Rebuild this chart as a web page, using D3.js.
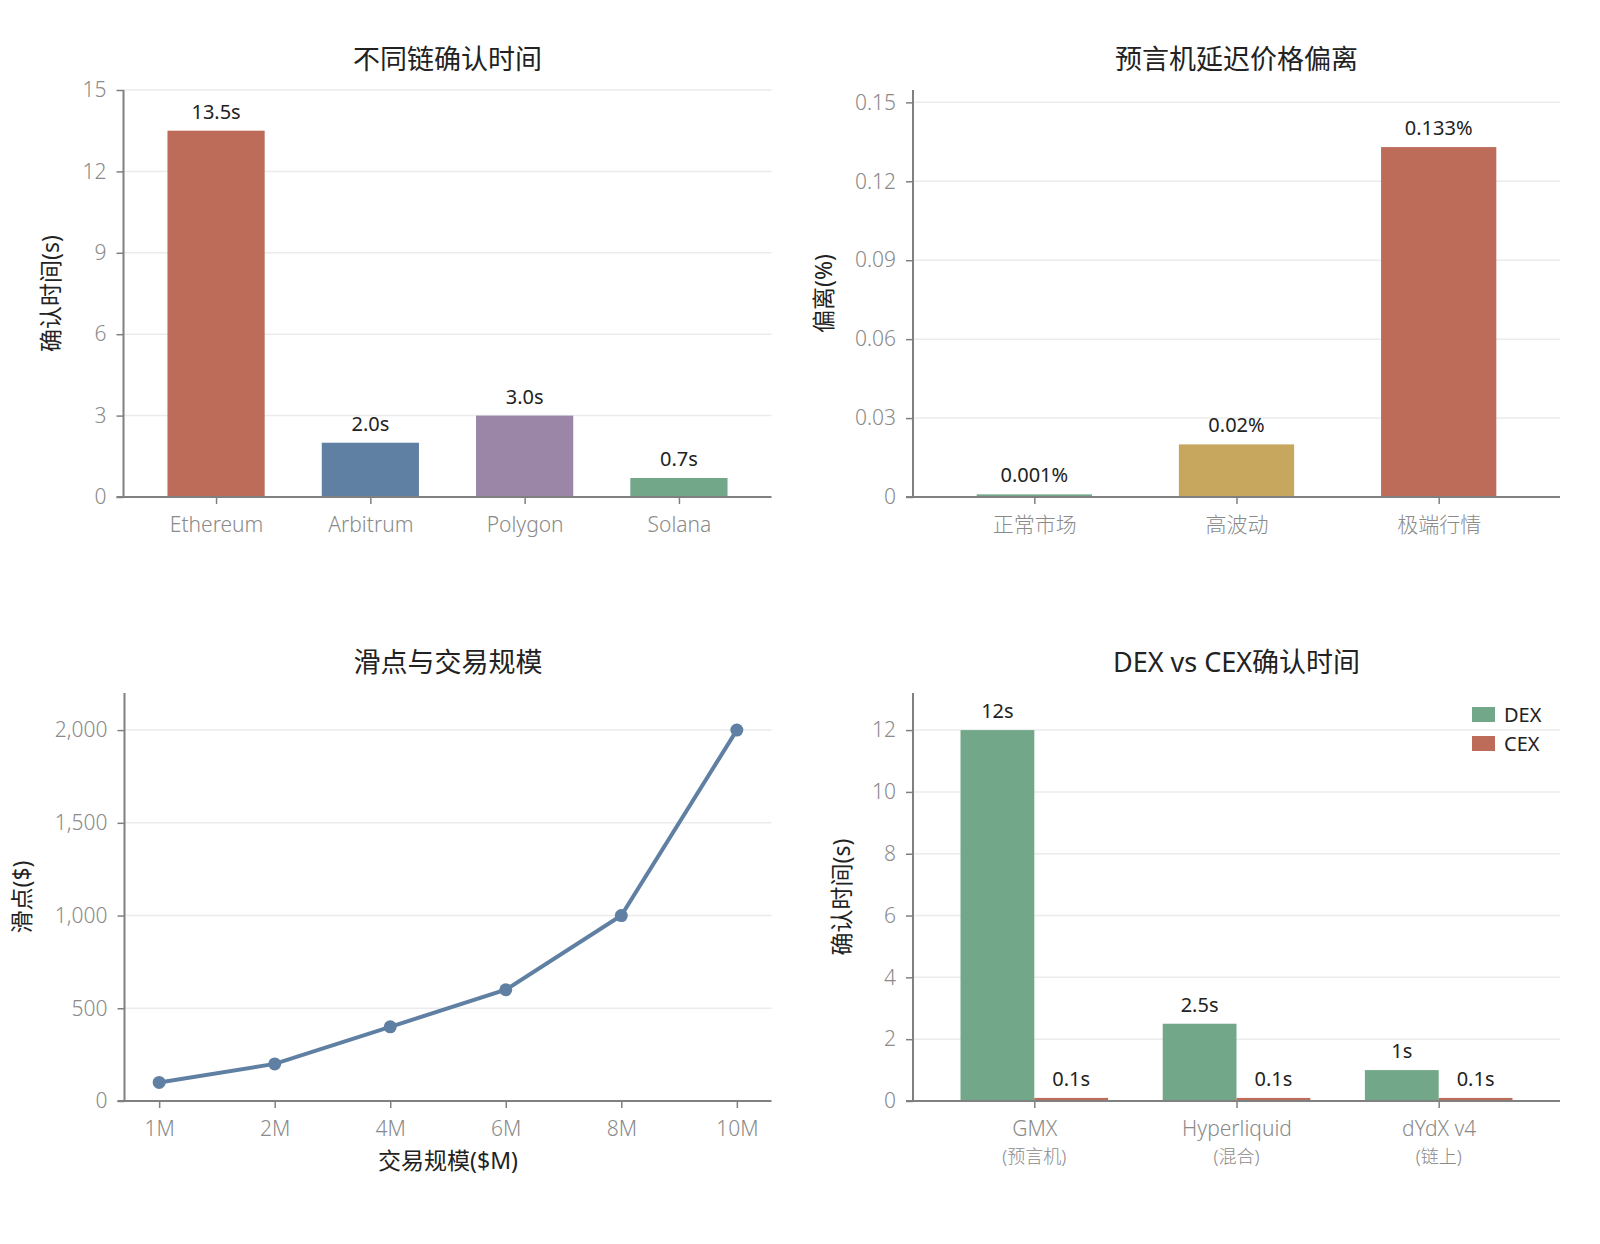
<!DOCTYPE html>
<html>
<head>
<meta charset="utf-8">
<script src="https://cdn.jsdelivr.net/npm/d3@7"></script>
<style>
  body { margin: 0; background: #fff; }
  svg text { font-family: "Noto Sans", "Noto Sans CJK SC", sans-serif; }
</style>
</head>
<body>
<svg id="chart" width="1600" height="1244"></svg>
<script>
// chain confirmation
var chains = ["Ethereum", "Arbitrum", "Polygon", "Solana"];
var chainTimes = [13.5, 2.0, 3.0, 0.7];
var chainLabels = ["13.5s", "2.0s", "3.0s", "0.7s"];
var chainTicks = [0, 3, 6, 9, 12, 15];

// oracle deviation
var markets = ["正常市场", "高波动", "极端行情"];
var deviations = [0.001, 0.02, 0.133];
var deviationLabels = ["0.001%", "0.02%", "0.133%"];
var deviationTicks = [0, 0.03, 0.06, 0.09, 0.12, 0.15];
var deviationTickLabels = ["0", "0.03", "0.06", "0.09", "0.12", "0.15"];

// slippage
var sizes = ["1M", "2M", "4M", "6M", "8M", "10M"];
var slippage = [100, 200, 400, 600, 1000, 2000];
var slippageTicks = [0, 500, 1000, 1500, 2000];

// dex vs cex
var venues = ["GMX", "Hyperliquid", "dYdX v4"];
var venueSub = ["(预言机)", "(混合)", "(链上)"];
var dexTimes = [12, 2.5, 1];
var cexTimes = [0.1, 0.1, 0.1];
var dexLabels = ["12s", "2.5s", "1s"];
var cexLabels = ["0.1s", "0.1s", "0.1s"];
var dexTicks = [0, 2, 4, 6, 8, 10, 12];

var RED = "#bd6c5a", BLUE = "#6080a3", PURPLE = "#9b86a8", GREEN = "#72a789", GOLD = "#c7a65d";
var AXIS = "#808080", TICKTXT = "#8a8a8a", GRID = "#ebebeb", DARK = "#222";

var svg = d3.select("#chart");

// frame + grid of one panel
function panel(o) {
  var g = svg.append("g");
  var x = d3.scaleLinear().domain(o.xdom).range([o.left, o.right]);
  var y = d3.scaleLinear().domain(o.ydom).range([o.bottom, o.top]);

  g.selectAll(".grid").data(o.yticks).enter().append("line")
    .attr("x1", o.left).attr("x2", o.right)
    .attr("y1", function(d){ return y(d); }).attr("y2", function(d){ return y(d); })
    .style("stroke", GRID).style("stroke-width", 1.5);

  o.g = g; o.x = x; o.y = y;
  return o;
}

function axes(o) {
  var g = o.g, y = o.y, x = o.x;
  var ya = d3.axisLeft(y).tickValues(o.yticks).tickSize(7).tickPadding(10)
    .tickFormat(o.yfmt || function(d){ return d; });
  var yg = g.append("g").attr("transform", "translate(" + o.left + ",0)").call(ya);
  yg.select(".domain").remove();
  yg.append("line").attr("x1", 0).attr("x2", 0).attr("y1", o.top).attr("y2", o.bottom)
    .style("stroke", AXIS).style("stroke-width", 2);

  var xa = d3.axisBottom(x).tickValues(o.xticks).tickSize(7).tickPadding(13)
    .tickFormat(function(d, i){ return o.xlabels[i]; });
  var xg = g.append("g").attr("transform", "translate(0," + o.bottom + ")").call(xa);
  xg.select(".domain").remove();
  xg.append("line").attr("x1", o.left - 7).attr("x2", o.right).attr("y1", 0).attr("y2", 0)
    .style("stroke", AXIS).style("stroke-width", 2);

  [yg, xg].forEach(function(a){
    a.selectAll(".tick line").style("stroke", AXIS).style("stroke-width", 1.5);
    a.selectAll(".tick text").style("fill", TICKTXT).style("font-size", "21px").style("font-weight", 300);
  });

  svg.append("text").attr("x", (o.left + o.right) / 2).attr("y", o.top - 21)
    .attr("text-anchor", "middle").style("font-size", "27px").style("fill", DARK)
    .text(o.title);
  svg.append("text").attr("transform", "translate(" + o.ylabx + "," + ((o.top + o.bottom) / 2) + ") rotate(-90)")
    .attr("text-anchor", "middle").attr("dy", "0.35em").style("font-size", "23px").style("fill", DARK)
    .text(o.ylabel);
  return xg;
}

function valueLabel(g, px, py, txt) {
  g.append("text").attr("x", px).attr("y", py - 12).attr("text-anchor", "middle")
    .style("font-size", "20px").style("fill", DARK).text(txt);
}

// ---- panel 1 ----
var p1 = panel({ left: 123.5, right: 771.5, top: 90, bottom: 497,
  xdom: [-0.6, 3.6], ydom: [0, 15], yticks: chainTicks });
var bw1 = p1.x(0.315) - p1.x(0);
var colors1 = [RED, BLUE, PURPLE, GREEN];
chains.forEach(function(c, i){
  p1.g.append("rect").attr("x", p1.x(i) - bw1).attr("width", 2 * bw1)
    .attr("y", p1.y(chainTimes[i])).attr("height", p1.y(0) - p1.y(chainTimes[i]))
    .style("fill", colors1[i]);
  valueLabel(p1.g, p1.x(i), p1.y(chainTimes[i]), chainLabels[i]);
});
p1.xticks = d3.range(chains.length); p1.xlabels = chains;
p1.title = "不同链确认时间"; p1.ylabel = "确认时间(s)"; p1.ylabx = 51;
axes(p1);

// ---- panel 2 ----
var p2 = panel({ left: 913, right: 1560, top: 90, bottom: 497,
  xdom: [-0.6, 2.6], ydom: [0, 0.1547], yticks: deviationTicks });
var bw2 = p2.x(0.285) - p2.x(0);
var colors2 = [GREEN, GOLD, RED];
markets.forEach(function(m, i){
  p2.g.append("rect").attr("x", p2.x(i) - bw2).attr("width", 2 * bw2)
    .attr("y", p2.y(deviations[i])).attr("height", p2.y(0) - p2.y(deviations[i]))
    .style("fill", colors2[i]);
  valueLabel(p2.g, p2.x(i), p2.y(deviations[i]), deviationLabels[i]);
});
p2.xticks = d3.range(markets.length); p2.xlabels = markets;
p2.yfmt = function(d, i){ return deviationTickLabels[i]; };
p2.title = "预言机延迟价格偏离"; p2.ylabel = "偏离(%)"; p2.ylabx = 824;
axes(p2);

// ---- panel 3 ----
var p3 = panel({ left: 124.5, right: 771.5, top: 693, bottom: 1101,
  xdom: [-0.3, 5.3], ydom: [0, 2200], yticks: slippageTicks });
var line = d3.line().x(function(d, i){ return p3.x(i); }).y(function(d){ return p3.y(d); });
p3.g.append("path").datum(slippage).attr("d", line)
  .style("fill", "none").style("stroke", BLUE).style("stroke-width", 4);
p3.g.selectAll(".pt").data(slippage).enter().append("circle")
  .attr("cx", function(d, i){ return p3.x(i); }).attr("cy", function(d){ return p3.y(d); })
  .attr("r", 6.5).style("fill", BLUE);
p3.xticks = d3.range(sizes.length); p3.xlabels = sizes;
p3.yfmt = d3.format(",");
p3.title = "滑点与交易规模"; p3.ylabel = "滑点($)"; p3.ylabx = 22;
axes(p3);
svg.append("text").attr("x", 448).attr("y", 1169).attr("text-anchor", "middle")
  .style("font-size", "23px").style("fill", DARK).text("交易规模($M)");

// ---- panel 4 ----
var p4 = panel({ left: 913, right: 1560, top: 693, bottom: 1101,
  xdom: [-0.6, 2.6], ydom: [0, 13.2], yticks: dexTicks });
var bw4 = p4.x(0.365) - p4.x(0);
venues.forEach(function(v, i){
  p4.g.append("rect").attr("x", p4.x(i) - bw4).attr("width", bw4)
    .attr("y", p4.y(dexTimes[i])).attr("height", p4.y(0) - p4.y(dexTimes[i]))
    .style("fill", GREEN);
  p4.g.append("rect").attr("x", p4.x(i)).attr("width", bw4)
    .attr("y", p4.y(cexTimes[i])).attr("height", p4.y(0) - p4.y(cexTimes[i]))
    .style("fill", RED);
  valueLabel(p4.g, p4.x(i) - bw4 / 2, p4.y(dexTimes[i]), dexLabels[i]);
  valueLabel(p4.g, p4.x(i) + bw4 / 2, p4.y(cexTimes[i]), cexLabels[i]);
});
p4.xticks = d3.range(venues.length); p4.xlabels = venues;
p4.title = "DEX vs CEX确认时间"; p4.ylabel = "确认时间(s)"; p4.ylabx = 842;
axes(p4);
venues.forEach(function(v, i){
  p4.g.append("text").attr("x", p4.x(i)).attr("y", p4.bottom + 62).attr("text-anchor", "middle")
    .style("font-size", "18px").style("fill", TICKTXT).style("font-weight", 300).text(venueSub[i]);
});

// legend
var legend = svg.append("g").attr("transform", "translate(1472,707)");
[["DEX", GREEN], ["CEX", RED]].forEach(function(d, i){
  legend.append("rect").attr("x", 0).attr("y", i * 29).attr("width", 23).attr("height", 15).style("fill", d[1]);
  legend.append("text").attr("x", 32).attr("y", i * 29 + 8).attr("dy", "0.35em")
    .style("font-size", "20px").style("fill", DARK).text(d[0]);
});
</script>
</body>
</html>
